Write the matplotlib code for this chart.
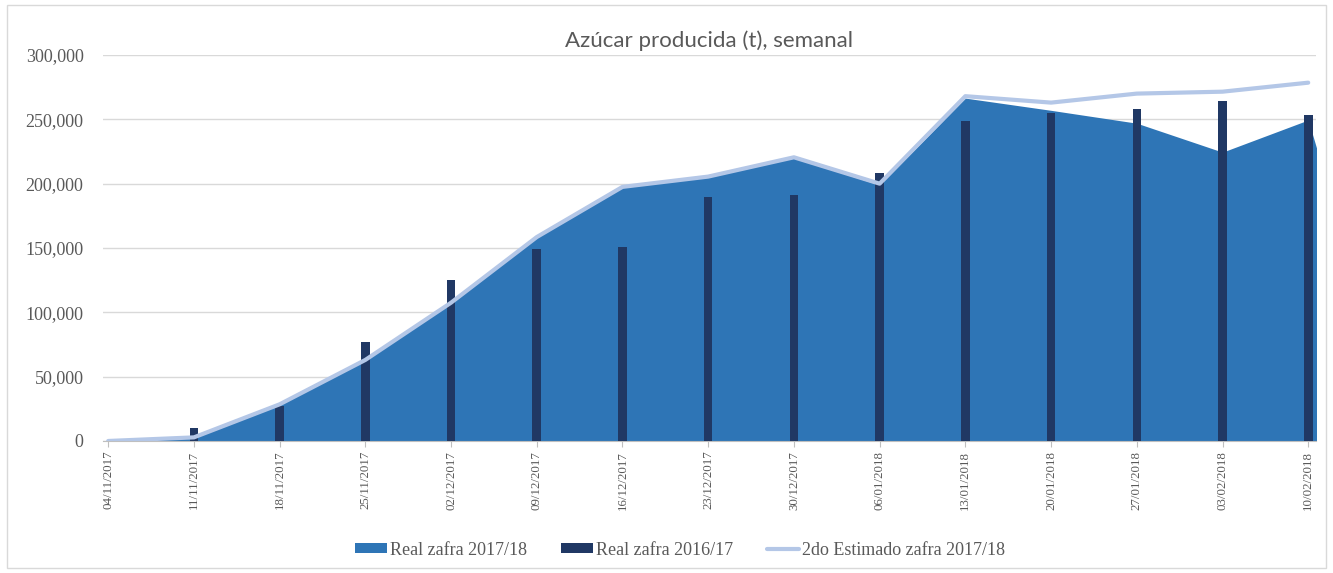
import numpy as np
import matplotlib.pyplot as plt
from matplotlib.patches import Rectangle

fechas = ["04/11/2017", "11/11/2017", "18/11/2017", "25/11/2017", "02/12/2017",
          "09/12/2017", "16/12/2017", "23/12/2017", "30/12/2017", "06/01/2018",
          "13/01/2018", "20/01/2018", "27/01/2018", "03/02/2018", "10/02/2018"]

# the 2017/18 area runs one week past the last label and is clipped by the axis
real_1718 = [0, 2300, 28000, 63000, 107000, 158000, 197000, 205000, 220000, 199000,
             266500, 257000, 247000, 224500, 249500, 25000]
real_1617 = [0, 10000, 27000, 77000, 125000, 149000, 151000, 190000, 191000, 208000,
             248500, 255000, 258000, 264000, 253000]
estimado_1718 = [0, 2800, 28500, 63000, 107500, 158500, 197500, 205500, 220500, 200000,
                 268000, 263000, 270000, 271500, 278500]

c_area = "#2E75B6"
c_bar = "#203864"
c_line = "#B4C7E7"
c_text = "#595959"

fig = plt.figure(figsize=(13.33, 5.73), dpi=100)
ax = fig.add_axes([0.0773, 0.2304, 0.9099, 0.6736])

x = np.arange(len(fechas))
x_area = np.arange(len(real_1718))

ax.fill_between(x_area, real_1718, 0, color=c_area, linewidth=0, zorder=2,
                label="Real zafra 2017/18")
ax.bar(x, real_1617, width=0.1, color=c_bar, zorder=3, label="Real zafra 2016/17")
ax.plot(x, estimado_1718, color=c_line, linewidth=3, zorder=4,
        solid_capstyle="round", label="2do Estimado zafra 2017/18")

ax.set_xlim(-0.06, len(fechas) - 1 + 0.09)
ax.set_ylim(0, 300000)
ax.set_yticks(np.arange(0, 300001, 50000))
ax.yaxis.set_major_formatter(plt.FuncFormatter(lambda v, p: f"{int(v):,}"))
ax.grid(axis="y", color="#D9D9D9", linewidth=1, zorder=0)
ax.set_axisbelow(True)

ax.set_xticks(x)
ax.set_xticklabels(fechas, rotation=90, fontsize=9.3, family="Liberation Serif",
                   color=c_text)
ax.tick_params(axis="x", length=4, color="#BFBFBF", pad=3)
ax.tick_params(axis="y", length=0, pad=14, labelsize=13, labelcolor=c_text)
for lbl in ax.get_yticklabels():
    lbl.set_family("Liberation Serif")

for s in ["top", "right", "left"]:
    ax.spines[s].set_visible(False)
ax.spines["bottom"].set_color("#BFBFBF")

ax.set_title("Azúcar producida (t), semanal", fontsize=16, family="Lato",
             fontweight="normal", color=c_text, pad=6)

handles, labels = ax.get_legend_handles_labels()
order = [labels.index(n) for n in ["Real zafra 2017/18", "Real zafra 2016/17",
                                   "2do Estimado zafra 2017/18"]]
leg = fig.legend([handles[i] for i in order], [labels[i] for i in order],
                 loc="center", bbox_to_anchor=(0.51, 0.04), ncol=3, frameon=False,
                 prop={"family": "Liberation Serif", "size": 13},
                 handlelength=1.78, handleheight=0.45, handletextpad=0.15,
                 columnspacing=1.9)
for t in leg.get_texts():
    t.set_color(c_text)

fig.patches.append(Rectangle((0.005, 0.008), 0.99, 0.984, transform=fig.transFigure,
                             fill=False, edgecolor="#D9D9D9", linewidth=1))

fig.savefig("out.png", dpi=100)
